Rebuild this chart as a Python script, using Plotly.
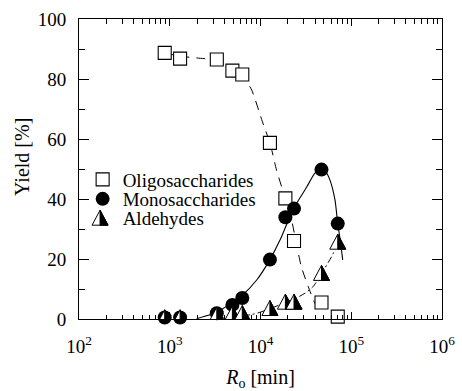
import plotly.graph_objects as go

# ---- data ----
ro = [880, 1300, 3300, 4900, 6300, 12700, 18800, 23400, 47000, 71000]
oligo = [88.7, 86.8, 86.5, 82.8, 81.5, 58.7, 40.2, 26.0, 5.5, 0.8]
mono = [0.5, 0.5, 1.9, 4.7, 7.0, 19.8, 33.9, 36.8, 49.8, 31.8]
ald = [0.4, 0.4, 1.3, 1.7, 1.8, 3.5, 5.6, 5.6, 15.2, 25.6]

oligo_fit_x = [880, 1300, 2000, 3300, 4900, 6300, 8000, 10300, 12800, 15000,
               18700, 22000, 25000, 28200, 33600, 39800, 46000]
oligo_fit_y = [88.7, 87.6, 87.0, 86.3, 84.0, 81.3, 76.3, 66.5, 58.3, 49.7,
               40.3, 33.0, 24.8, 17.4, 10.8, 5.2, 2.6]

mono_fit_x = [1980, 2780, 3400, 4600, 6150, 9080, 12700, 16400, 19100, 23300,
              32300, 39800, 47000, 53000, 58300, 66200, 71000, 75500, 80500]
mono_fit_y = [0.1, 1.4, 2.4, 5.0, 7.6, 13.0, 19.8, 26.3, 31.0, 37.0,
              44.0, 48.6, 49.9, 48.8, 46.3, 39.7, 31.8, 26.5, 19.7]

ald_fit_x = [3000, 5000, 8000, 10000, 12700, 18700, 24500, 30900, 38000, 47000, 60800, 72000]
ald_fit_y = [0.2, 0.6, 1.5, 2.3, 3.4, 5.5, 6.9, 8.6, 10.8, 15.2, 20.8, 25.6]

names = ["Oligosaccharides", "Monosaccharides", "Aldehydes"]
x_tickvals = [1e2, 1e3, 1e4, 1e5, 1e6]
x_ticktext = ["10<sup>2</sup>", "10<sup>3</sup>", "10<sup>4</sup>", "10<sup>5</sup>", "10<sup>6</sup>"]
y_tickvals = [0, 20, 40, 60, 80, 100]

FONT = "Liberation Serif, Times New Roman, Times, serif"

fig = go.Figure()

fig.add_trace(go.Scatter(x=oligo_fit_x, y=oligo_fit_y, mode="lines", showlegend=False,
                         line=dict(color="black", width=1, dash="9px,7px", shape="spline", smoothing=0.6),
                         hoverinfo="skip"))
fig.add_trace(go.Scatter(x=mono_fit_x, y=mono_fit_y, mode="lines", showlegend=False,
                         line=dict(color="black", width=1.1, shape="spline", smoothing=0.6),
                         hoverinfo="skip"))
fig.add_trace(go.Scatter(x=ald_fit_x, y=ald_fit_y, mode="lines", showlegend=False,
                         line=dict(color="black", width=1, dash="7px,3px,2px,3px", shape="spline", smoothing=0.6),
                         hoverinfo="skip"))

fig.add_trace(go.Scatter(x=ro, y=oligo, mode="markers", name=names[0], legend="legend",
                         cliponaxis=False,
                         marker=dict(symbol="square", size=13, color="white",
                                     line=dict(color="black", width=1.1))))
fig.add_trace(go.Scatter(x=ro, y=mono, mode="markers", name=names[1], legend="legend2",
                         cliponaxis=False,
                         marker=dict(symbol="circle", size=14, color="black",
                                     line=dict(color="black", width=0))))
fig.add_trace(go.Scatter(x=ro, y=ald, mode="markers", name=names[2], legend="legend3",
                         cliponaxis=False,
                         marker=dict(symbol="triangle-up", size=14, color="rgba(0,0,0,0)",
                                     line=dict(color="rgba(0,0,0,0)", width=0))))

# half-filled triangle markers (pixel-sized, anchored at each data point)
tri_full = "M-8,-7 L8,-7 L0,8 Z"
tri_half = "M0,-7 L8,-7 L0,8 Z"
shapes = []
for xv, yv in zip(ro, ald):
    shapes.append(dict(type="path", xref="x", yref="y", xsizemode="pixel", ysizemode="pixel",
                       xanchor=xv, yanchor=yv, path=tri_full, fillcolor="white",
                       line=dict(color="black", width=1), layer="above"))
    shapes.append(dict(type="path", xref="x", yref="y", xsizemode="pixel", ysizemode="pixel",
                       xanchor=xv, yanchor=yv, path=tri_half, fillcolor="black",
                       line=dict(color="black", width=1), layer="above"))
# legend symbol for aldehydes
for p, fc in ((tri_full, "white"), (tri_half, "black")):
    shapes.append(dict(type="path", xref="paper", yref="paper", xsizemode="pixel", ysizemode="pixel",
                       xanchor=0.058, yanchor=0.336, path=p, fillcolor=fc,
                       line=dict(color="black", width=1), layer="above"))

leg_common = dict(xanchor="left", yanchor="middle", bgcolor="rgba(0,0,0,0)", borderwidth=0,
                  font=dict(family=FONT, size=19, color="black"), itemwidth=30)

fig.update_layout(
    width=462, height=391,
    margin=dict(l=79, r=20, t=19, b=72, autoexpand=False),
    paper_bgcolor="white", plot_bgcolor="white",
    font=dict(family=FONT, size=18, color="black"),
    shapes=shapes,
    legend=dict(x=0.01, y=0.465, **leg_common),
    legend2=dict(x=0.01, y=0.400, **leg_common),
    legend3=dict(x=0.01, y=0.336, **leg_common),
    xaxis=dict(type="log", range=[2, 6], tickmode="array", tickvals=x_tickvals, ticktext=x_ticktext,
               automargin=False,
               ticks="inside", ticklen=7, tickwidth=1, tickcolor="black",
               showline=True, linecolor="black", linewidth=1, mirror="allticks",
               showgrid=False, zeroline=False,
               minor=dict(ticks="inside", ticklen=4.5, tickwidth=1, tickcolor="black",
                          dtick="D1", showgrid=False),
               tickfont=dict(family=FONT, size=19, color="black"),
               ticklabelstandoff=10,
               title=dict(text="<i>R</i><sub>o</sub> [min]", font=dict(family=FONT, size=20, color="black"),
                          standoff=16)),
    yaxis=dict(range=[0, 100], tickmode="array", tickvals=y_tickvals,
               automargin=False,
               ticks="inside", ticklen=10, tickwidth=1, tickcolor="black",
               showline=True, linecolor="black", linewidth=1, mirror="allticks",
               showgrid=False, zeroline=False,
               minor=dict(ticks="inside", ticklen=6, tickwidth=1, tickcolor="black",
                          dtick=10, tick0=0, showgrid=False),
               tickfont=dict(family=FONT, size=19, color="black"),
               ticklabelstandoff=8),
    annotations=[dict(text="Yield [%]", xref="paper", yref="paper", x=-0.157, y=0.54,
                      textangle=-90, showarrow=False, xanchor="center", yanchor="middle",
                      font=dict(family=FONT, size=20, color="black"))],
)

fig.write_html("out.html")
